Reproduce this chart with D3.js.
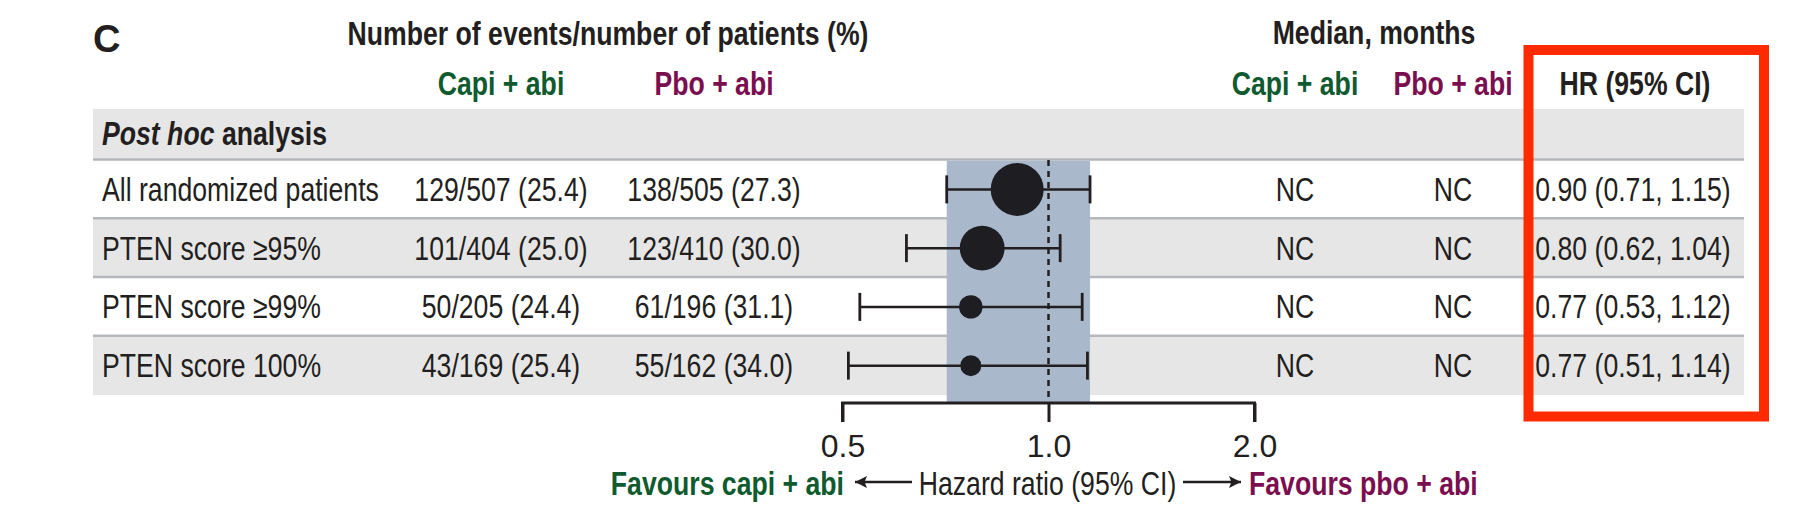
<!DOCTYPE html>
<html>
<head>
<meta charset="utf-8">
<script src="https://cdn.jsdelivr.net/npm/d3@7"></script>
<style>
  html, body { margin: 0; padding: 0; background: #fff; }
  svg { display: block; }
  .nar { font-family: "Liberation Sans", Arial, sans-serif; }
  .reg { font-family: "Liberation Sans", Arial, sans-serif; }
</style>
</head>
<body>
<svg id="chart" width="1818" height="510"></svg>
<script>
// ---------------- data ----------------
const rowLabels   = ["All randomized patients", "PTEN score \u226595%", "PTEN score \u226599%", "PTEN score 100%"];
const capiEvents  = [129, 101, 50, 43];
const capiN       = [507, 404, 205, 169];
const capiPct     = [25.4, 25.0, 24.4, 25.4];
const pboEvents   = [138, 123, 61, 55];
const pboN        = [505, 410, 196, 162];
const pboPct      = [27.3, 30.0, 31.1, 34.0];
const medianCapi  = ["NC", "NC", "NC", "NC"];
const medianPbo   = ["NC", "NC", "NC", "NC"];
const hr          = [0.90, 0.80, 0.77, 0.77];
const hrLow       = [0.71, 0.62, 0.53, 0.51];
const hrHigh      = [1.15, 1.04, 1.12, 1.14];
const axisTicks   = [0.5, 1.0, 2.0];
const panelLabel  = "C";
const sectionLabelItalic = "Post hoc";
const sectionLabelRest   = " analysis";

// ---------------- styles ----------------
const INK = "#231f20", GREEN = "#0f5a2e", PURPLE = "#7b0e4f";
const BAND = "#e6e6e6", SEP = "#b4b7bb", BLUE = "#a9b8cb", RED = "#ff2a00";
const FS = 32.5;
const SX = 0.82;   // horizontal condensation (narrow face)

const svg = d3.select("#chart");
const n = rowLabels.length;
const rows = d3.range(n).map(i => ({
  label: rowLabels[i],
  capi: `${capiEvents[i]}/${capiN[i]} (${d3.format(".1f")(capiPct[i])})`,
  pbo: `${pboEvents[i]}/${pboN[i]} (${d3.format(".1f")(pboPct[i])})`,
  mc: medianCapi[i], mp: medianPbo[i],
  hr: hr[i], lo: hrLow[i], hi: hrHigh[i],
  events: capiEvents[i] + pboEvents[i],
  hrText: `${d3.format(".2f")(hr[i])} (${d3.format(".2f")(hrLow[i])}, ${d3.format(".2f")(hrHigh[i])})`
}));

// layout
const tableLeft = 93, tableRight = 1744;
const headBandTop = 109, headBandBottom = 159;
const y = d3.scaleBand().domain(d3.range(n)).range([160, 395]).paddingInner(0).paddingOuter(0);
const x = d3.scaleLog().domain([0.5, 2]).range([842.5, 1254.5]);
const r = d3.scaleLinear().domain([d3.min(rows, d => d.events), d3.max(rows, d => d.events)]).range([10.5, 26.5]);
const axisY = 403;

const col = { label: 102, capi: 501, pbo: 714, mCapi: 1295, mPbo: 1453, hr: 1633 };

// condensed text helper
function ntext(parent, xx, yy, anchor, bold, color) {
  return parent.append("text").attr("class", "nar")
    .attr("transform", `translate(${xx},${yy}) scale(${SX},1)`)
    .attr("text-anchor", anchor).attr("font-size", FS)
    .attr("font-weight", bold ? "bold" : "normal").attr("fill", color);
}

// header band
svg.append("rect").attr("x", tableLeft).attr("y", headBandTop)
  .attr("width", tableRight - tableLeft).attr("height", headBandBottom - headBandTop).attr("fill", BAND);

// row bands
svg.selectAll("rect.row").data(rows).join("rect").attr("class", "row")
  .attr("x", tableLeft).attr("y", (d, i) => y(i))
  .attr("width", tableRight - tableLeft).attr("height", y.bandwidth())
  .attr("fill", (d, i) => i % 2 === 1 ? BAND : "#fff");

// separators (top of each row)
svg.selectAll("line.sep").data(rows).join("line").attr("class", "sep")
  .attr("x1", tableLeft).attr("x2", tableRight)
  .attr("y1", (d, i) => y(i) - 0.5).attr("y2", (d, i) => y(i) - 0.5)
  .attr("stroke", SEP).attr("stroke-width", 2.5);

// CI band for overall population
svg.append("rect")
  .attr("x", x(rows[0].lo)).attr("width", x(rows[0].hi) - x(rows[0].lo))
  .attr("y", y(0) + 0.8).attr("height", axisY - y(0) - 0.8)
  .attr("fill", BLUE);

// reference line at HR = 1
svg.append("line").attr("x1", x(1)).attr("x2", x(1))
  .attr("y1", y(0)).attr("y2", axisY)
  .attr("stroke", INK).attr("stroke-width", 2.5).attr("stroke-dasharray", "6,5");

// whiskers & points
const g = svg.selectAll("g.pt").data(rows).join("g").attr("class", "pt")
  .attr("transform", (d, i) => `translate(0,${y(i) + y.bandwidth() / 2})`);
g.append("line").attr("x1", d => x(d.lo)).attr("x2", d => x(d.hi)).attr("y1", 0).attr("y2", 0)
  .attr("stroke", INK).attr("stroke-width", 2.5);
g.append("line").attr("x1", d => x(d.lo)).attr("x2", d => x(d.lo)).attr("y1", -14).attr("y2", 14)
  .attr("stroke", INK).attr("stroke-width", 2.8);
g.append("line").attr("x1", d => x(d.hi)).attr("x2", d => x(d.hi)).attr("y1", -14).attr("y2", 14)
  .attr("stroke", INK).attr("stroke-width", 2.8);
g.append("circle").attr("cx", d => x(d.hr)).attr("cy", 0).attr("r", d => r(d.events)).attr("fill", "#1e1e22");

// row texts
g.each(function (d) {
  const s = d3.select(this);
  ntext(s, col.label, 11.5, "start", false, INK).text(d.label);
  ntext(s, col.capi, 11.5, "middle", false, INK).text(d.capi);
  ntext(s, col.pbo, 11.5, "middle", false, INK).text(d.pbo);
  ntext(s, col.mCapi, 11.5, "middle", false, INK).text(d.mc);
  ntext(s, col.mPbo, 11.5, "middle", false, INK).text(d.mp);
  ntext(s, col.hr, 11.5, "middle", false, INK).text(d.hrText);
});

// section label
const sec = ntext(svg, col.label, headBandTop + 36, "start", true, INK);
sec.append("tspan").attr("font-style", "italic").text(sectionLabelItalic);
sec.append("tspan").text(sectionLabelRest);

// headers
svg.append("text").attr("class", "reg").attr("x", 93).attr("y", 52)
  .attr("font-size", 38).attr("font-weight", "bold").attr("fill", INK).text(panelLabel);
ntext(svg, 608, 45, "middle", true, INK).text("Number of events/number of patients (%)");
ntext(svg, col.capi, 95, "middle", true, GREEN).text("Capi + abi");
ntext(svg, col.pbo, 95, "middle", true, PURPLE).text("Pbo + abi");
ntext(svg, 1374, 44, "middle", true, INK).text("Median, months");
ntext(svg, col.mCapi, 95, "middle", true, GREEN).text("Capi + abi");
ntext(svg, col.mPbo, 95, "middle", true, PURPLE).text("Pbo + abi");
ntext(svg, 1635, 95, "middle", true, INK).text("HR (95% CI)");

// axis
const axis = d3.axisBottom(x).tickValues(axisTicks).tickFormat(d3.format(".1f")).tickSize(19).tickPadding(12);
const ax = svg.append("g").attr("transform", `translate(0,${axisY})`).call(axis);
ax.select(".domain").attr("d", `M${x(0.5)},19V0H${x(2)}V19`).attr("stroke", INK).attr("stroke-width", 3).attr("fill", "none");
ax.selectAll(".tick line").attr("stroke", INK).attr("stroke-width", 3);
ax.selectAll(".tick text").attr("class", "reg").attr("font-size", 32).attr("fill", INK).attr("dy", "0.71em");

// axis caption with arrows
const capY = 495, arrowY = 482;
ntext(svg, x(1) - 1, capY, "middle", false, INK).text("Hazard ratio (95% CI)");
ntext(svg, 844, capY, "end", true, GREEN).text("Favours capi + abi");
ntext(svg, 1249, capY, "start", true, PURPLE).text("Favours pbo + abi");
const defs = svg.append("defs");
defs.append("marker").attr("id", "ah").attr("viewBox", "0 0 10 10").attr("refX", 10).attr("refY", 5)
  .attr("markerWidth", 13).attr("markerHeight", 12).attr("markerUnits", "userSpaceOnUse").attr("orient", "auto")
  .append("path").attr("d", "M0,0L10,5L0,10L2,5Z").attr("fill", INK);
svg.append("line").attr("x1", 912).attr("x2", 855).attr("y1", arrowY).attr("y2", arrowY)
  .attr("stroke", INK).attr("stroke-width", 2.6).attr("marker-end", "url(#ah)");
svg.append("line").attr("x1", 1183).attr("x2", 1241).attr("y1", arrowY).attr("y2", arrowY)
  .attr("stroke", INK).attr("stroke-width", 2.6).attr("marker-end", "url(#ah)");

// red highlight box
svg.append("rect").attr("x", 1528.5).attr("y", 50).attr("width", 1764 - 1528.5).attr("height", 416.5 - 50)
  .attr("fill", "none").attr("stroke", RED).attr("stroke-width", 10);
</script>
</body>
</html>
